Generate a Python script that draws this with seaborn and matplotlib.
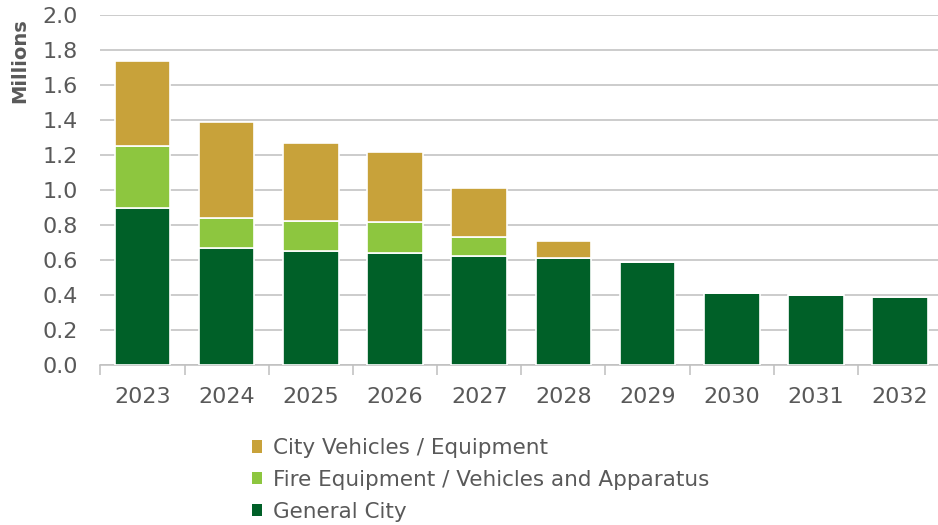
import numpy as np
import pandas as pd
import matplotlib
matplotlib.use("Agg")
import matplotlib.pyplot as plt
from matplotlib.patches import Patch
import seaborn as sns

# --------------------------------------------------------------
# Data (millions)
# --------------------------------------------------------------
years = ["2023", "2024", "2025", "2026", "2027", "2028", "2029", "2030", "2031", "2032"]
general_city = [0.90, 0.67, 0.65, 0.64, 0.62, 0.61, 0.59, 0.41, 0.40, 0.39]
fire_equipment = [0.35, 0.17, 0.175, 0.175, 0.11, 0.0, 0.0, 0.0, 0.0, 0.0]
city_vehicles = [0.49, 0.55, 0.445, 0.40, 0.28, 0.10, 0.0, 0.0, 0.0, 0.0]

labels = ["General City", "Fire Equipment / Vehicles and Apparatus", "City Vehicles / Equipment"]
colors = ["#006028", "#8DC63F", "#C8A23A"]

sns.set_theme(style="white")
plt.rcParams['font.family'] = ['DejaVu Sans']

fig = plt.figure(figsize=(9.38, 5.25), dpi=100)
ax = fig.add_axes([0.107, 0.305, 0.893, 0.666])

# --------------------------------------------------------------
# Stacked bars
# --------------------------------------------------------------
bottom = np.zeros(len(years))
for vals, lab, col in zip([general_city, fire_equipment, city_vehicles], labels, colors):
    df = pd.DataFrame({"year": years, "value": vals})
    sns.barplot(data=df, x="year", y="value", color=col, width=0.66,
                bottom=bottom, edgecolor="white", linewidth=1.2,
                saturation=1, ax=ax, zorder=3)
    bottom = bottom + np.array(vals)

ax.set_ylim(0, 2.0)
ax.set_xlim(-0.5, 9.45)
ax.set_yticks(np.arange(0, 2.01, 0.2))
ax.set_yticklabels([f"{v:.1f}" for v in np.arange(0, 2.01, 0.2)])
ax.yaxis.grid(True, color="#BFBFBF", linewidth=1.1, zorder=0)
ax.xaxis.grid(False)
ax.set_axisbelow(True)

for s in ["top", "right", "left"]:
    ax.spines[s].set_visible(False)
ax.spines["bottom"].set_color("#BFBFBF")
ax.spines["bottom"].set_linewidth(1.1)

ax.set_xticks(np.arange(-0.5, 9.5, 1.0), minor=True)
ax.tick_params(axis="x", which="minor", length=7, width=1.1, color="#BFBFBF", bottom=True)
ax.tick_params(axis="x", which="major", length=0, pad=16, labelsize=16, labelcolor="#595959")
ax.tick_params(axis="y", length=0, pad=16, labelsize=16, labelcolor="#595959")
ax.set_xlabel("")
ax.set_ylabel("")

fig.text(0.021, 0.965, "Millions", rotation=90, va="top", ha="center",
         fontsize=14, fontweight="bold", color="#595959")

# Legend below the chart
handles = [Patch(facecolor=c, edgecolor="none") for c in colors[::-1]]
fig.legend(handles, labels[::-1], loc="upper left", bbox_to_anchor=(0.259, 0.182),
           frameon=False, fontsize=15.5, labelcolor="#595959",
           handlelength=0.5, handleheight=0.5, handletextpad=0.5,
           labelspacing=0.55, borderaxespad=0)

fig.savefig("out.png", dpi=100)
